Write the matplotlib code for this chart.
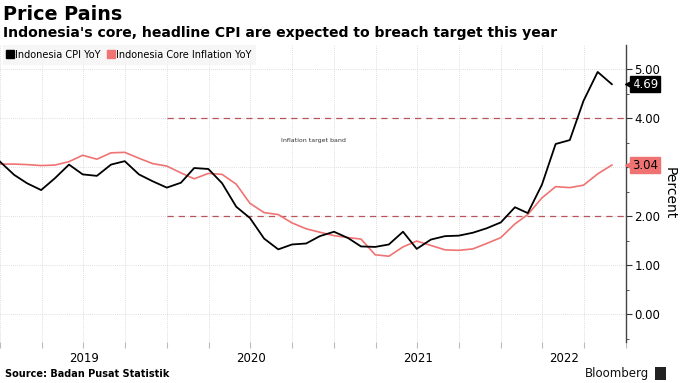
import matplotlib
matplotlib.use("Agg")
import matplotlib.pyplot as plt
import matplotlib.transforms as mtransforms
from matplotlib.lines import Line2D
from matplotlib.patches import Rectangle
import numpy as np
import pandas as pd

# monthly readings, Dec 2018 .. Aug 2022 (month-end)
months = pd.date_range("2018-12-31", periods=45, freq="ME")
cpi = [3.11, 2.84, 2.67, 2.53, 2.77, 3.05, 2.85, 2.82, 3.05, 3.12, 2.85, 2.71, 2.58,
       2.68, 2.98, 2.96, 2.67, 2.19, 1.96, 1.54, 1.32, 1.42, 1.44, 1.59, 1.68,
       1.55, 1.38, 1.37, 1.42, 1.68, 1.33, 1.52, 1.59, 1.60, 1.66, 1.75, 1.87,
       2.18, 2.06, 2.64, 3.47, 3.55, 4.35, 4.94, 4.69]
core = [3.06, 3.06, 3.05, 3.03, 3.04, 3.11, 3.24, 3.16, 3.29, 3.30, 3.18, 3.07, 3.02,
        2.88, 2.76, 2.87, 2.85, 2.65, 2.26, 2.07, 2.03, 1.86, 1.74, 1.67, 1.60,
        1.56, 1.53, 1.21, 1.18, 1.37, 1.49, 1.40, 1.31, 1.30, 1.33, 1.44, 1.56,
        1.84, 2.03, 2.37, 2.60, 2.58, 2.63, 2.86, 3.04]
band_start = "2020-01-01"
band_levels = [2.0, 4.0]
years = [2019, 2020, 2021, 2022]
yticks = [0.0, 1.0, 2.0, 3.0, 4.0, 5.0]
ylabels = ["0.00", "1.00", "2.00", "", "4.00", "5.00"]

black = "#000000"
red = "#f07373"
dash_col = "#b8555c"
grid_col = "#d4d4d4"

plt.rcParams["font.family"] = ["DejaVu Sans"]

fig = plt.figure(figsize=(6.8, 3.83), dpi=100)
ax = fig.add_axes([0.0, 1 - 342 / 383, 626 / 680, (342 - 45) / 383])

x0 = pd.Timestamp("2018-12-31")
x1 = pd.Timestamp("2022-10-01")

for lvl in band_levels:
    ax.plot([pd.Timestamp(band_start), x1], [lvl, lvl], color=dash_col, lw=0.9,
            dashes=(5, 4), zorder=2)

ax.plot(months, core, color=red, lw=1.2, zorder=3)
ax.plot(months, cpi, color=black, lw=1.3, zorder=4)

ax.set_xlim(x0, x1)
ax.set_ylim(-0.57, 5.49)

# grid
quarters = pd.date_range("2019-01-01", "2022-10-01", freq="QS")
ax.set_xticks(quarters)
ax.set_xticklabels([])
ax.tick_params(axis="x", length=4, color="#bbbbbb", direction="out")
for q in quarters:
    ax.axvline(q, color=grid_col, lw=0.6, ls=(0, (1, 1.5)), zorder=1)
for v in yticks:
    ax.axhline(v, color=grid_col, lw=0.6, ls=(0, (1, 1.5)), zorder=1)

ax.yaxis.tick_right()
ax.set_yticks(yticks)
ax.set_yticklabels(ylabels, fontsize=8.5)
ax.set_yticks(np.arange(-0.5, 5.5, 0.5), minor=True)
ax.tick_params(axis="y", which="major", length=4, width=0.8, color="#333333", pad=2)
ax.tick_params(axis="y", which="minor", length=2, width=0.6, color="#333333")
ax.yaxis.set_label_position("right")
ax.set_ylabel("Percent", rotation=-90, fontsize=10, labelpad=12)

for s in ["top", "left", "bottom"]:
    ax.spines[s].set_visible(False)
ax.spines["right"].set_color("#444444")
ax.spines["right"].set_linewidth(1.0)

# year labels centred on visible part of each year
trans = mtransforms.blended_transform_factory(ax.transData, fig.transFigure)
for yr in years:
    a = max(pd.Timestamp(f"{yr}-01-01"), x0)
    b = min(pd.Timestamp(f"{yr + 1}-01-01"), x1)
    mid = a + (b - a) / 2
    ax.text(mid, 1 - 358 / 383, str(yr), transform=trans, ha="center", va="center",
            fontsize=8.5)

# end-value tags
for val, fc, tc in [(cpi[-1], black, "white"), (core[-1], red, "black")]:
    ax.text(1.010, val, f"{val:.2f}", transform=ax.get_yaxis_transform(),
            ha="left", va="center", fontsize=8.5, color=tc, clip_on=False,
            bbox=dict(boxstyle="square,pad=0.15", fc=fc, ec=fc))
    ax.plot([1.004], [val], marker="<", ms=6, color=fc, transform=ax.get_yaxis_transform(),
            clip_on=False, zorder=6)

ax.text(pd.Timestamp("2020-11-15"), 3.55, "Inflation target band", fontsize=4.5,
        ha="center", va="center", color="#333333")

handles = [Line2D([], [], marker="s", ls="none", color=black, ms=6),
           Line2D([], [], marker="s", ls="none", color=red, ms=6)]
leg = ax.legend(handles, ["Indonesia CPI YoY", "Indonesia Core Inflation YoY"],
                loc="upper left", bbox_to_anchor=(0.004, 1.0), ncol=2, frameon=True,
                fontsize=7, handlelength=0.6, handletextpad=0.2, columnspacing=0.8,
                borderpad=0.5, borderaxespad=0.0, fancybox=False)
leg.get_frame().set_facecolor("#f4f4f4")
leg.get_frame().set_edgecolor("none")

fig.text(0.004, 1 - 14 / 383, "Price Pains", fontsize=13.8, fontweight="bold", va="center")
fig.text(0.004, 1 - 33 / 383,
         "Indonesia's core, headline CPI are expected to breach target this year",
         fontsize=10.1, fontweight="bold", va="center")
fig.text(0.007, 1 - 374 / 383, "Source: Badan Pusat Statistik", fontsize=7,
         fontweight="bold", va="center")
fig.text(0.955, 1 - 374 / 383, "Bloomberg", fontsize=8.5, ha="right", va="center",
         color="#111111")
fig.patches.append(Rectangle((0.963, 1 - 380 / 383), 0.016, 13 / 383,
                             transform=fig.transFigure, fc="#222222", ec="none"))

fig.savefig("out.png", dpi=100)
